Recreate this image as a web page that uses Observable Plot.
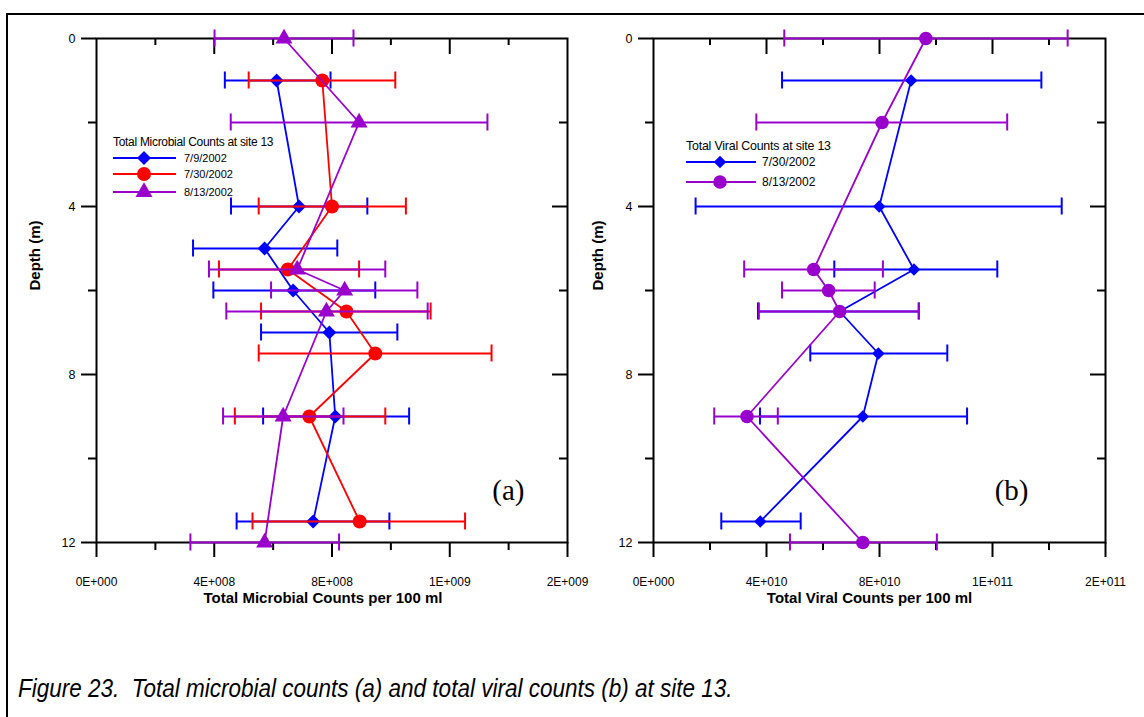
<!DOCTYPE html>
<html><head><meta charset="utf-8">
<script src="https://cdn.jsdelivr.net/npm/d3@7"></script>
<script src="https://cdn.jsdelivr.net/npm/@observablehq/plot@0.6"></script>
<style>
html,body{margin:0;padding:0;background:#fff;}
#wrap{position:relative;width:1144px;height:717px;overflow:hidden;background:#fff;font-family:"Liberation Sans",Arial,sans-serif;}
#outer{position:absolute;left:6px;top:13px;width:1200px;height:800px;border-left:2px solid #000;border-top:2px solid #000;}
#panelA{position:absolute;left:0;top:0;}
#panelB{position:absolute;left:580px;top:0;}
#caption{position:absolute;left:18px;top:676px;font-style:italic;font-size:25px;line-height:25px;white-space:nowrap;color:#000;font-family:"Liberation Sans",Arial,sans-serif;transform:scaleX(0.9);transform-origin:0 0;}
</style></head><body>
<div id="wrap"><div id="outer"></div><div id="panelA"></div><div id="panelB"></div>
<div id="caption">Figure 23.&nbsp; Total microbial counts (a) and total viral counts (b) at site 13.</div></div>
<script>
// ---------- Data: (a) Total microbial counts per 100 ml ----------
const microDepth0709 = [1, 4, 5, 6, 7, 9, 11.5];
const micro0709      = [6.12e8, 6.88e8, 5.71e8, 6.68e8, 7.91e8, 8.11e8, 7.36e8];
const micro0709Lo    = [4.36e8, 4.57e8, 3.28e8, 3.97e8, 5.59e8, 5.66e8, 4.76e8];
const micro0709Hi    = [7.95e8, 9.20e8, 8.18e8, 9.47e8, 1.022e9, 1.062e9, 9.95e8];

const microDepth0730 = [1, 4, 5.5, 6.5, 7.5, 9, 11.5];
const micro0730      = [7.67e8, 8.00e8, 6.50e8, 8.49e8, 9.47e8, 7.23e8, 8.94e8];
const micro0730Lo    = [5.17e8, 5.51e8, 4.16e8, 5.59e8, 5.51e8, 4.70e8, 5.30e8];
const micro0730Hi    = [1.015e9, 1.051e9, 8.92e8, 1.135e9, 1.342e9, 9.81e8, 1.252e9];

const microDepth0813 = [0, 2, 5.5, 6, 6.5, 9, 12];
const micro0813      = [6.37e8, 8.92e8, 6.82e8, 8.43e8, 7.81e8, 6.34e8, 5.71e8];
const micro0813Lo    = [4.01e8, 4.56e8, 3.82e8, 5.93e8, 4.41e8, 4.30e8, 3.19e8];
const micro0813Hi    = [8.73e8, 1.328e9, 9.81e8, 1.090e9, 1.125e9, 8.39e8, 8.24e8];

// ---------- Data: (b) Total viral counts per 100 ml ----------
const viralDepth0730 = [1, 4, 5.5, 6.5, 7.5, 9, 11.5];
const viral0730      = [9.12e10, 7.99e10, 9.22e10, 6.59e10, 7.96e10, 7.41e10, 3.78e10];
const viral0730Lo    = [4.55e10, 1.49e10, 6.40e10, 3.70e10, 5.55e10, 3.77e10, 2.40e10];
const viral0730Hi    = [1.373e11, 1.445e11, 1.217e11, 9.39e10, 1.040e11, 1.110e11, 5.21e10];

const viralDepth0813 = [0, 2, 5.5, 6, 6.5, 9, 12];
const viral0813      = [9.64e10, 8.09e10, 5.67e10, 6.20e10, 6.59e10, 3.31e10, 7.41e10];
const viral0813Lo    = [4.63e10, 3.64e10, 3.21e10, 4.55e10, 3.73e10, 2.15e10, 4.83e10];
const viral0813Hi    = [1.466e11, 1.252e11, 8.12e10, 7.83e10, 9.39e10, 4.40e10, 1.003e11];

// ---------- Axes ----------
const depthMajor = [0, 4, 8, 12];
const depthMinor = [2, 6, 10];
const microTicks = [0, 4e8, 8e8, 1.2e9, 1.6e9];
const microMinor = [2e8, 6e8, 1.0e9, 1.4e9];
const microTickLabels = ["0E+000", "4E+008", "8E+008", "1E+009", "2E+009"];
const viralTicks = [0, 4e10, 8e10, 1.2e11, 1.6e11];
const viralMinor = [2e10, 6e10, 1.0e11, 1.4e11];
const viralTickLabels = ["0E+000", "4E+010", "8E+010", "1E+011", "2E+011"];

const BLUE = "#0000ff", RED = "#ff0000", PURPLE = "#9900cc";

function rowsOf(depths, vals, lo, hi) {
  return depths.map((d, i) => ({depth: d, value: vals[i], lo: lo[i], hi: hi[i]}));
}

const microSeries = [
  {label: "7/9/2002", color: BLUE, symbol: "diamond2", r: 6.3, rows: rowsOf(microDepth0709, micro0709, micro0709Lo, micro0709Hi)},
  {label: "7/30/2002", color: RED, symbol: "circle", r: 7, rows: rowsOf(microDepth0730, micro0730, micro0730Lo, micro0730Hi)},
  {label: "8/13/2002", color: PURPLE, symbol: "triangle", r: 6.3, rows: rowsOf(microDepth0813, micro0813, micro0813Lo, micro0813Hi)}
];
const viralSeries = [
  {label: "7/30/2002", color: BLUE, symbol: "diamond2", r: 5.6, rows: rowsOf(viralDepth0730, viral0730, viral0730Lo, viral0730Hi)},
  {label: "8/13/2002", color: PURPLE, symbol: "circle", r: 6.8, rows: rowsOf(viralDepth0813, viral0813, viral0813Lo, viral0813Hi)}
];

function panel(cfg) {
  const height = 620, marginTop = 38, marginBottom = 78;
  const frameW = cfg.width - cfg.marginLeft - cfg.marginRight;
  const frameH = height - marginTop - marginBottom;
  const marks = [
    Plot.axisX({ticks: cfg.xTicks, tickSize: 15, tickPadding: 20, strokeWidth: 2, label: null, fontSize: 12,
      tickFormat: d => cfg.xLabels[cfg.xTicks.indexOf(d)]}),
    Plot.axisX({ticks: cfg.xMinor, tickSize: 8, strokeWidth: 2, label: null, tickFormat: () => ""}),
    Plot.axisY({ticks: depthMajor, tickSize: 15, tickPadding: 6, strokeWidth: 2, label: null, fontSize: 12.5,
      tickFormat: d => String(d)}),
    Plot.axisY({ticks: depthMinor, tickSize: 8, strokeWidth: 2, label: null, tickFormat: () => ""}),
    Plot.tickX(cfg.xTicks.slice(1, -1), {x: d => d, insetBottom: frameH - 16, strokeWidth: 2}),
    Plot.tickX(cfg.xMinor, {x: d => d, insetBottom: frameH - 7, strokeWidth: 2}),
    Plot.tickY(depthMajor.slice(1, -1), {y: d => d, insetLeft: frameW - 15, strokeWidth: 2}),
    Plot.tickY(depthMinor, {y: d => d, insetLeft: frameW - 8, strokeWidth: 2}),
    Plot.frame({strokeWidth: 2})
  ];
  for (const s of cfg.series) {
    marks.push(
      Plot.ruleY(s.rows, {y: "depth", x1: "lo", x2: "hi", stroke: s.color, strokeWidth: 2}),
      Plot.ruleX(s.rows, {x: "lo", y1: "depth", y2: "depth", insetTop: -8.5, insetBottom: -8.5, stroke: s.color, strokeWidth: 2}),
      Plot.ruleX(s.rows, {x: "hi", y1: "depth", y2: "depth", insetTop: -8.5, insetBottom: -8.5, stroke: s.color, strokeWidth: 2}),
      Plot.line(s.rows, {x: "value", y: "depth", stroke: s.color, strokeWidth: 1.8}),
      Plot.dot(s.rows, {x: "value", y: "depth", symbol: s.symbol, r: s.r, fill: s.color})
    );
  }
  marks.push(
    Plot.text([cfg.xTitle], {text: d => d, frameAnchor: "bottom", dy: 60, dx: cfg.titleDx, fontWeight: "bold", fontSize: 15}),
    Plot.text(["Depth (m)"], {text: d => d, frameAnchor: "left", dx: cfg.depthDx, rotate: -90, fontWeight: "bold", fontSize: 15}),
    Plot.text([cfg.tag], {text: d => d, frameAnchor: "bottom-right", dx: cfg.tagDx, dy: -43, fontFamily: "Liberation Serif, Times New Roman, serif", fontSize: 29})
  );
  const svg = Plot.plot({
    width: cfg.width, height,
    marginLeft: cfg.marginLeft, marginRight: cfg.marginRight, marginTop, marginBottom,
    x: {domain: [0, cfg.xTicks[cfg.xTicks.length - 1]]},
    y: {domain: [0, 12], reverse: true},
    style: {fontFamily: "Liberation Sans, Arial, sans-serif", fontSize: "13px", color: "#000", background: "transparent", overflow: "visible"},
    marks
  });
  // legend inside the plot area
  const L = cfg.legend;
  const g = d3.select(svg).append("g").attr("font-family", "Liberation Sans, Arial, sans-serif").attr("text-anchor", "start");
  g.append("text").attr("x", L.x).attr("y", L.titleY).attr("dy", "0.35em").attr("text-anchor", "start")
    .attr("font-size", L.titleSize).attr("letter-spacing", L.spacing).attr("fill", "#000").text(L.title);
  cfg.series.forEach((s, i) => {
    const y = L.rowsY[i];
    g.append("line").attr("x1", L.x).attr("x2", L.lineEnd).attr("y1", y).attr("y2", y)
      .attr("stroke", s.color).attr("stroke-width", 1.8);
    const sym = {diamond2: d3.symbolDiamond2, circle: d3.symbolCircle, triangle: d3.symbolTriangle}[s.symbol];
    g.append("path").attr("d", d3.symbol(sym, Math.PI * s.r * s.r)())
      .attr("transform", `translate(${L.markX},${y})`).attr("fill", s.color);
    g.append("text").attr("x", L.textX).attr("y", y).attr("dy", "0.35em").attr("text-anchor", "start")
      .attr("font-size", L.labelSize).attr("fill", "#000").text(s.label);
  });
  return svg;
}

document.getElementById("panelA").appendChild(panel({
  width: 580, marginLeft: 96, marginRight: 13,
  xTicks: microTicks, xMinor: microMinor, xLabels: microTickLabels,
  xTitle: "Total Microbial Counts per 100 ml", titleDx: -9, depthDx: -61, tag: "(a)", tagDx: -43,
  series: microSeries,
  legend: {title: "Total Microbial Counts at site 13", x: 113, titleY: 142, titleSize: 12, spacing: -0.3,
    lineEnd: 176, markX: 144, textX: 184, rowsY: [158, 174, 192], labelSize: 11}
}));
document.getElementById("panelB").appendChild(panel({
  width: 564, marginLeft: 73, marginRight: 39,
  xTicks: viralTicks, xMinor: viralMinor, xLabels: viralTickLabels,
  xTitle: "Total Viral Counts per 100 ml", titleDx: -10, depthDx: -55, tag: "(b)", tagDx: -77,
  series: viralSeries,
  legend: {title: "Total Viral Counts at site 13", x: 106, titleY: 146, titleSize: 12.4, spacing: -0.2,
    lineEnd: 176, markX: 140, textX: 182, rowsY: [162, 182], labelSize: 12}
}));
</script>
</body></html>
